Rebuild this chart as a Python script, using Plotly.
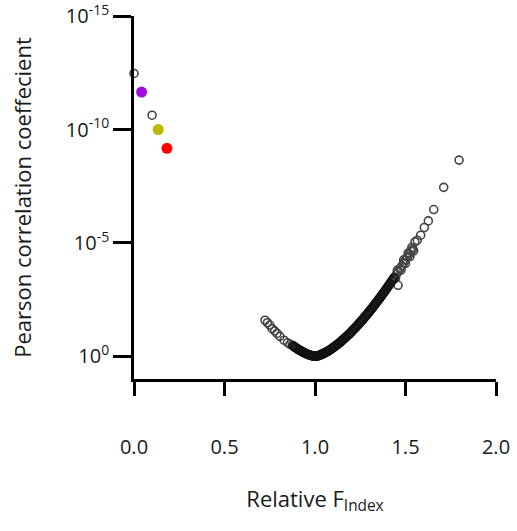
import plotly.graph_objects as go

# Relative F_Index values and -log10(p)
x_branch = [0.724, 0.737, 0.750, 0.763, 0.777, 0.790, 0.806, 0.829, 0.848, 0.862,
            0.875, 0.885, 0.895, 0.905, 0.915, 0.925, 0.935, 0.945, 0.955, 0.965,
            0.975, 0.985, 0.995,
            1.000, 1.010, 1.020, 1.030, 1.040, 1.050, 1.060, 1.070, 1.080, 1.090,
            1.100, 1.110, 1.120, 1.130, 1.140, 1.150, 1.160, 1.170, 1.180, 1.190,
            1.200, 1.210, 1.220, 1.230, 1.240, 1.250, 1.260, 1.270, 1.280, 1.290,
            1.300, 1.310, 1.320, 1.330, 1.340, 1.350, 1.360, 1.370, 1.380, 1.390,
            1.400, 1.410, 1.420, 1.430, 1.440, 1.450, 1.460, 1.470, 1.480, 1.490,
            1.500, 1.510, 1.520, 1.530, 1.540, 1.552, 1.565, 1.584, 1.604, 1.626,
            1.656, 1.711, 1.796,
            1.445, 1.455, 1.475, 1.490, 1.500, 1.515, 1.525, 1.535, 1.545, 1.459]
neglog_branch = [1.59, 1.48, 1.38, 1.22, 1.12, 1.01, 0.88, 0.71, 0.60, 0.53,
                 0.49, 0.42, 0.37, 0.31, 0.27, 0.22, 0.18, 0.14, 0.10, 0.07,
                 0.05, 0.02, 0.01,
                 0.00, 0.01, 0.03, 0.06, 0.10, 0.13, 0.18, 0.22, 0.27, 0.32,
                 0.38, 0.44, 0.50, 0.56, 0.63, 0.70, 0.77, 0.84, 0.92, 0.99,
                 1.07, 1.16, 1.24, 1.32, 1.41, 1.50, 1.59, 1.68, 1.78, 1.87,
                 1.97, 2.07, 2.17, 2.28, 2.38, 2.49, 2.59, 2.70, 2.81, 2.92,
                 3.04, 3.15, 3.27, 3.38, 3.50, 3.62, 3.74, 3.87, 3.99, 4.12,
                 4.24, 4.37, 4.50, 4.63, 4.72, 5.04, 5.12, 5.34, 5.68, 5.97,
                 6.47, 7.45, 8.65,
                 3.45, 3.80, 3.80, 4.25, 4.10, 4.55, 4.40, 4.80, 4.65, 3.13]

# dense part of the band (points between the ones above)
x_dense = [0.880, 0.890, 0.900, 0.910, 0.920, 0.930, 0.940, 0.950, 0.960, 0.970,
           0.980, 0.990,
           1.005, 1.015, 1.025, 1.035, 1.045, 1.055, 1.065, 1.075, 1.085, 1.095,
           1.105, 1.115, 1.125, 1.135, 1.145, 1.155, 1.165, 1.175, 1.185, 1.195,
           1.205, 1.215, 1.225, 1.235, 1.245, 1.255, 1.265, 1.275, 1.285, 1.295,
           1.305, 1.315, 1.325, 1.335, 1.345, 1.355, 1.365, 1.375, 1.385, 1.395,
           1.405, 1.415, 1.425, 1.435]
neglog_dense = [0.45, 0.40, 0.34, 0.29, 0.25, 0.20, 0.16, 0.12, 0.09, 0.06,
                0.03, 0.01,
                0.005, 0.02, 0.045, 0.08, 0.115, 0.155, 0.20, 0.245, 0.295, 0.35,
                0.41, 0.47, 0.53, 0.595, 0.665, 0.735, 0.805, 0.88, 0.955, 1.03,
                1.115, 1.20, 1.28, 1.365, 1.455, 1.545, 1.635, 1.73, 1.825, 1.92,
                2.02, 2.12, 2.225, 2.33, 2.435, 2.54, 2.645, 2.755, 2.865, 2.98,
                3.095, 3.21, 3.325, 3.44]

x_top_open = [0.000, 0.100]
neglog_top_open = [12.47, 10.63]

x_colored = [0.042, 0.134, 0.182]
neglog_colored = [11.65, 10.00, 9.17]
colors_colored = ["#a30be6", "#bdb800", "#ff0000"]

y_tickvals = [1e-15, 1e-10, 1e-5, 1]
y_ticktext = ["10<sup>-15</sup>", "10<sup>-10</sup>", "10<sup>-5</sup>", "10<sup>0</sup>"]
x_tickvals = [0.0, 0.5, 1.0, 1.5, 2.0]
x_ticktext = ["0.0", "0.5", "1.0", "1.5", "2.0"]

FONT = "Open Sans"
TXT = "#1a1a1a"

open_marker = dict(symbol="circle-open", size=8, color="#444444", line=dict(width=1.6, color="#444444"))
dense_marker = dict(symbol="circle-open", size=8, color="#111111", line=dict(width=1.8, color="#111111"))

fig = go.Figure()
fig.add_trace(go.Scatter(
    x=x_branch, y=[10 ** (-v) for v in neglog_branch], mode="markers",
    marker=open_marker, cliponaxis=False, showlegend=False))
fig.add_trace(go.Scatter(
    x=x_dense, y=[10 ** (-v) for v in neglog_dense], mode="markers",
    marker=dense_marker, cliponaxis=False, showlegend=False))
fig.add_trace(go.Scatter(
    x=x_top_open, y=[10 ** (-v) for v in neglog_top_open], mode="markers",
    marker=open_marker, cliponaxis=False, showlegend=False))
fig.add_trace(go.Scatter(
    x=x_colored, y=[10 ** (-v) for v in neglog_colored], mode="markers",
    marker=dict(symbol="circle", size=11, color=colors_colored, line=dict(width=0)),
    cliponaxis=False, showlegend=False))

fig.update_layout(
    width=517, height=531,
    margin=dict(l=134, r=21, t=16, b=152, autoexpand=False),
    paper_bgcolor="white", plot_bgcolor="white",
    font=dict(family=FONT, color=TXT),
    xaxis=dict(
        range=[0, 2], tickvals=x_tickvals, ticktext=x_ticktext,
        showline=True, linecolor="black", linewidth=2.5,
        ticks="outside", ticklen=14, tickwidth=2.5, tickcolor="black",
        ticklabelstandoff=34, ticklabeloverflow="allow",
        tickfont=dict(size=20, family=FONT, color=TXT),
        showgrid=False, zeroline=False, automargin=False,
        title=dict(text="Relative F<sub>Index</sub>", font=dict(size=22, family=FONT, color=TXT), standoff=33),
    ),
    yaxis=dict(
        type="log", range=[1, -15.004], tickvals=y_tickvals, ticktext=y_ticktext,
        showline=True, linecolor="black", linewidth=2.5,
        ticks="outside", ticklen=18, tickwidth=2.5, tickcolor="black",
        ticklabeloverflow="allow",
        tickfont=dict(size=20, family=FONT, color=TXT),
        showgrid=False, zeroline=False, automargin=False,
        title=dict(text="Pearson correlation coeffecient", font=dict(size=22, family=FONT, color=TXT), standoff=29),
    ),
)

fig.write_html("out.html")
